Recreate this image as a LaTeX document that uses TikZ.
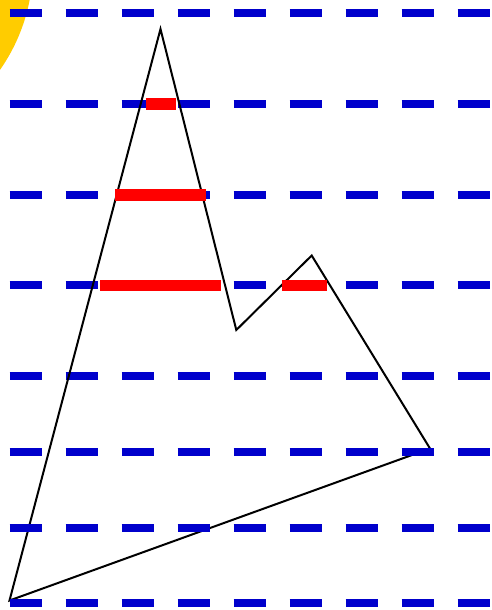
\documentclass[tikz,border=0pt]{standalone}
\begin{document}
\begin{tikzpicture}[x=1pt,y=-1pt,
  bluedash/.style={draw={rgb,255:red,0;green,0;blue,204},line width=8pt,dash pattern=on 32pt off 24pt},
  redbar/.style={draw={rgb,255:red,255;green,0;blue,0},line width=11.5pt},
  outline/.style={draw=black,line width=2pt,line join=miter}]
\useasboundingbox (0,0) rectangle (491,610);
\fill[fill={rgb,255:red,255;green,204;blue,0}] (-150,-35) circle (183);
\foreach \yy in {13.5,104,194.5,285,376}{
  \draw[bluedash] (9.5,\yy) -- (495,\yy);
}
\coordinate (apex) at (160.5,29);
\coordinate (valley) at (236.3,330);
\coordinate (peak) at (311.7,255.5);
\coordinate (right) at (430,448.5);
\coordinate (bl) at (9.5,600.5);
\draw[outline] (apex) -- (valley) -- (peak) -- (right) -- (bl) -- cycle;
\foreach \yy in {452,527.5,603}{
  \draw[bluedash] (9.5,\yy) -- (495,\yy);
}
\draw[redbar] (145.7,104.2) -- (175.7,104.2);
\draw[redbar] (115.3,194.8) -- (206,194.8);
\draw[redbar] (100.3,285.3) -- (221,285.3);
\draw[redbar] (281.7,285.3) -- (327.3,285.3);
\end{tikzpicture}
\end{document}
